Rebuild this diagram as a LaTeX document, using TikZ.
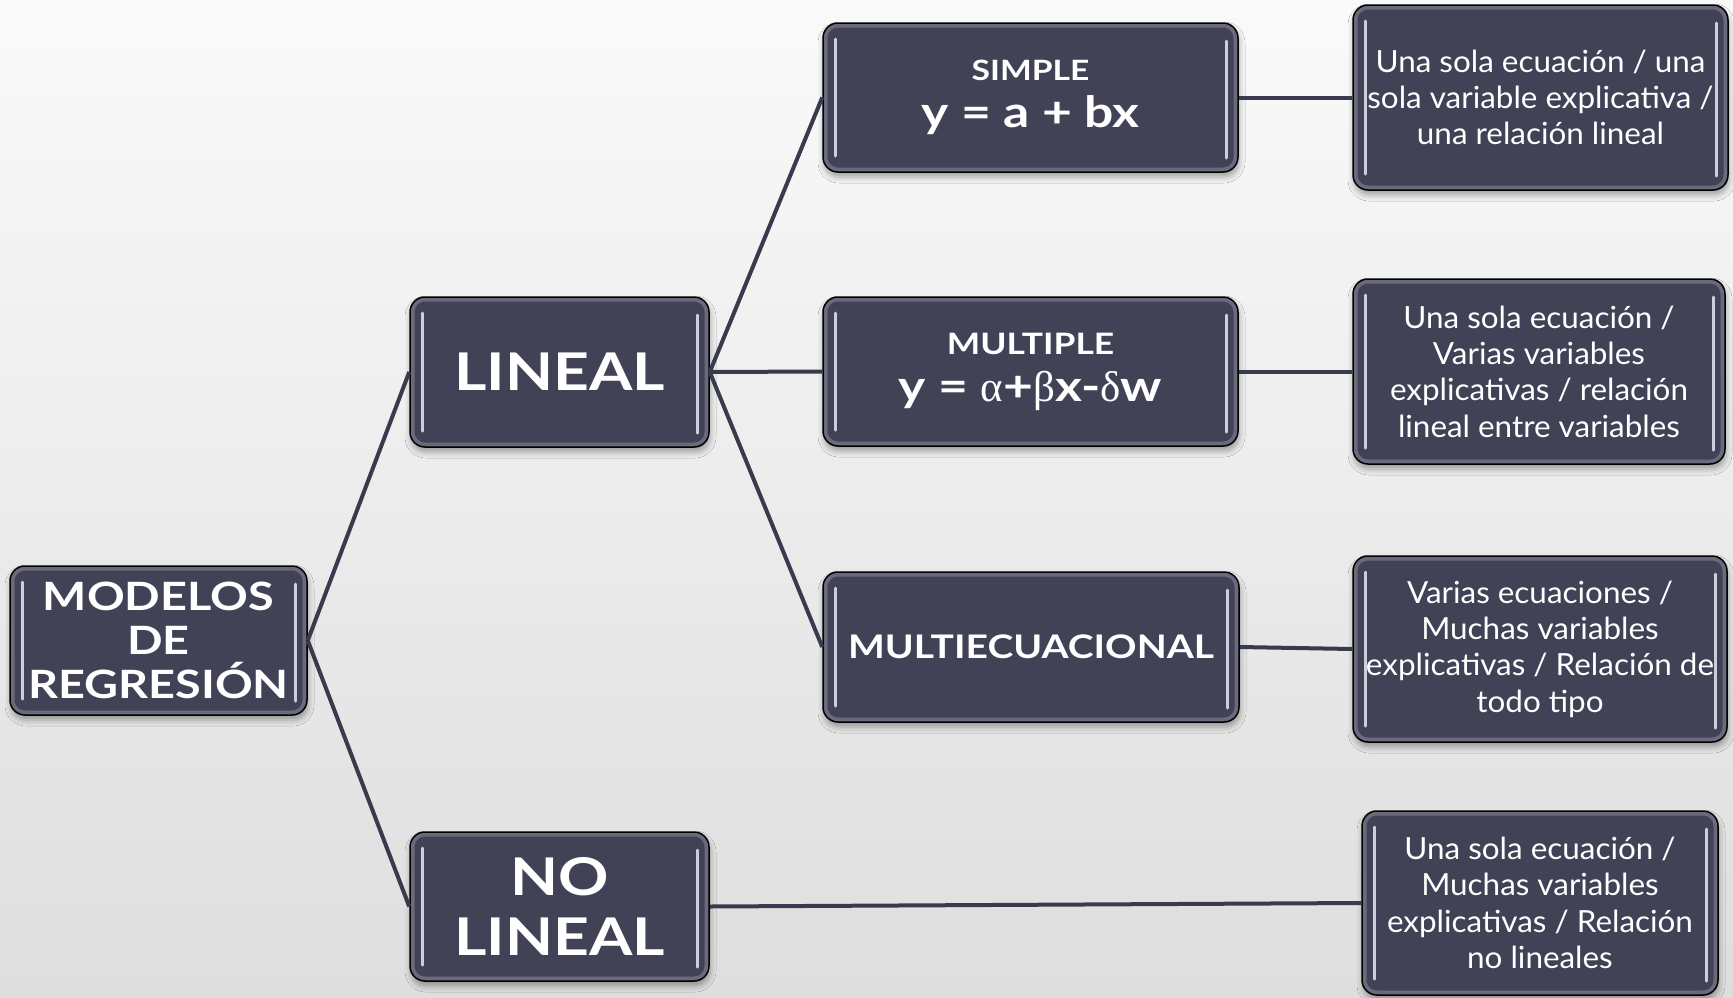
\documentclass[tikz,border=0pt]{standalone}
\usepackage{fontspec}
\setmainfont{Lato}[FakeStretch=1.2]
\newfontfamily\descfontb{Lato}[FakeStretch=1.03]
\newfontfamily\grk{Liberation Serif}
\usetikzlibrary{shadows.blur}
\definecolor{boxfill}{RGB}{65,66,86}
\definecolor{conncol}{RGB}{58,58,78}
\definecolor{barcol}{RGB}{205,205,220}
\definecolor{rimcol}{RGB}{140,140,158}
\tikzset{
  box/.style={draw=black, line width=1.5pt, fill=boxfill, rounded corners=15pt,
    text=white, align=center, inner sep=0pt,
    blur shadow={shadow xshift=1pt, shadow yshift=-5pt, shadow blur radius=6pt, shadow opacity=35},
    path picture={
      \draw[rimcol, opacity=0.55, line width=9pt, rounded corners=15pt]
        (path picture bounding box.south west) rectangle (path picture bounding box.north east);
      \draw[barcol, line width=3pt, line cap=round]
        ([xshift=12pt,yshift=-16pt]path picture bounding box.north west) --
        ([xshift=12pt,yshift=16pt]path picture bounding box.south west);
      \draw[barcol, line width=3pt, line cap=round]
        ([xshift=-12pt,yshift=-18pt]path picture bounding box.north east) --
        ([xshift=-12pt,yshift=14pt]path picture bounding box.south east);
    }},
  conn/.style={draw=conncol, line width=4pt},
  bigtitle/.style={font=\bfseries\fontsize{39}{44}\selectfont},
  midtitle/.style={font=\bfseries\fontsize{52}{60}\selectfont},
  formtitle/.style={font=\bfseries\fontsize{43}{47}\selectfont},
  descb/.style={font=\descfontb\fontsize{30.5}{36.3}\selectfont},
}
\begin{document}
\begin{tikzpicture}[x=1pt,y=-1pt]
\useasboundingbox (0,0) rectangle (1733,997);
\shade[top color={rgb,255:red,250;green,250;blue,250}, bottom color={rgb,255:red,222;green,222;blue,222}] (0,0) rectangle (1733,997);

\node[box, bigtitle, minimum width=297pt, minimum height=149pt] (modelos) at (158.5,640.5) {MODELOS\\DE\\REGRESIÓN};
\node[box, midtitle, minimum width=299pt, minimum height=150pt] (lineal) at (559.5,372) {LINEAL};
\node[box, midtitle, minimum width=299pt, minimum height=149pt] (nolineal) at (559.5,906.5) {NO\\LINEAL};

\node[box, formtitle, minimum width=415pt, minimum height=149pt] (simple) at (1030.5,97.5)
  {{\fontsize{28}{30}\selectfont SIMPLE}\\y = a + bx};
\node[box, formtitle, minimum width=415pt, minimum height=149pt] (multiple) at (1030.5,371.5)
  {{\fontsize{29.5}{30}\selectfont MULTIPLE}\\y = {\grk\mdseries α}+{\grk\mdseries β}x-{\grk\mdseries δ}w};
\node[box, font=\bfseries\fontsize{32.5}{36}\selectfont, minimum width=416pt, minimum height=150pt] (multiec) at (1031,647) {MULTIECUACIONAL};

\node[box, descb, minimum width=375pt, minimum height=185pt] (d1) at (1540.5,97.5)
  {Una sola ecuación / una\\sola variable explicativa /\\una relación lineal};
\node[box, descb, minimum width=372pt, minimum height=185pt] (d2) at (1539,371.5)
  {Una sola ecuación /\\Varias variables\\explicativas / relación\\lineal entre variables};
\node[box, descb, minimum width=374pt, minimum height=186pt] (d3) at (1540,649)
  {Varias ecuaciones /\\Muchas variables\\explicativas / Relación de\\todo tipo};
\node[box, descb, minimum width=356pt, minimum height=184pt] (d4) at (1540,903)
  {Una sola ecuación /\\Muchas variables\\explicativas / Relación\\no lineales};

\draw[conn] (modelos.east) -- (lineal.west);
\draw[conn] (modelos.east) -- (nolineal.west);
\draw[conn] (lineal.east) -- (simple.west);
\draw[conn] (lineal.east) -- (multiple.west);
\draw[conn] (lineal.east) -- (multiec.west);
\draw[conn] (simple.east) -- (d1.west);
\draw[conn] (multiple.east) -- (d2.west);
\draw[conn] (multiec.east) -- (d3.west);
\draw[conn] (nolineal.east) -- (d4.west);
\end{tikzpicture}
\end{document}
